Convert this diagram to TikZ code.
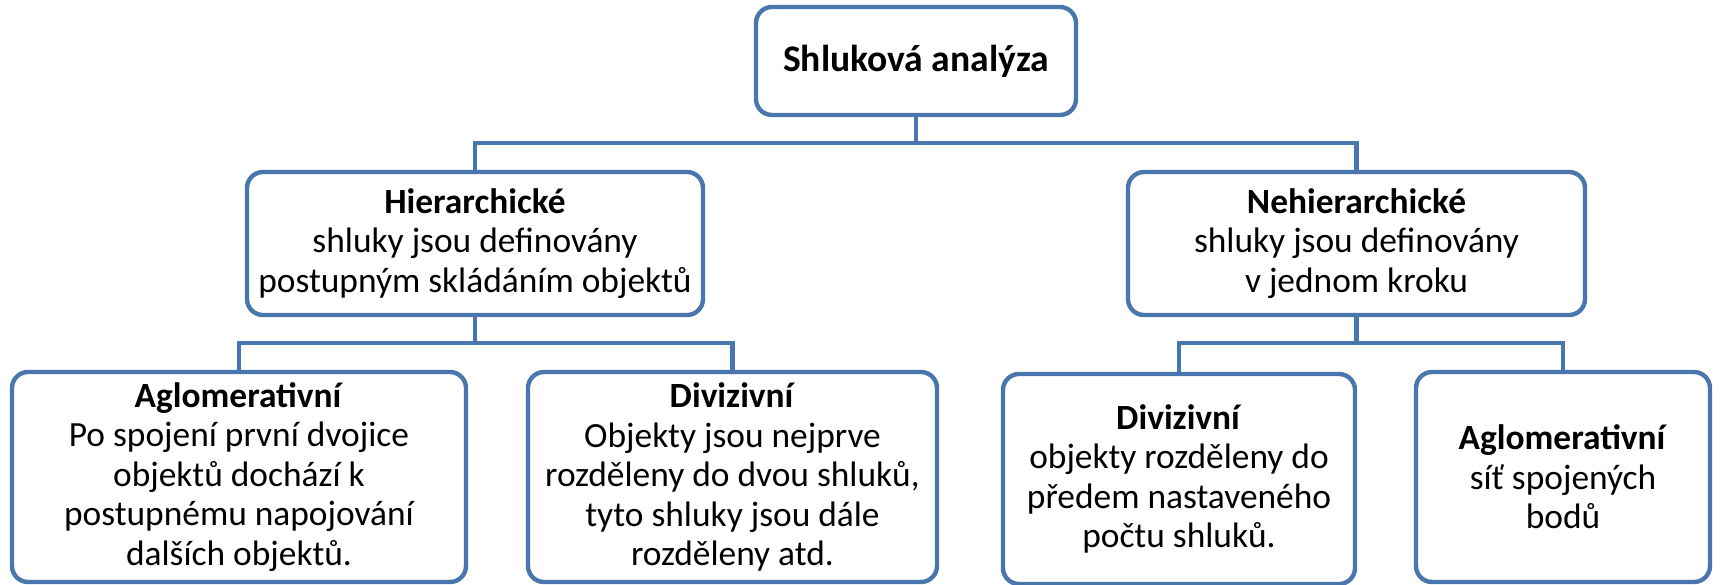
\documentclass[tikz,border=0pt]{standalone}
\usepackage{fontspec}
\setmainfont{Carlito}
\usepackage{tikz}
\definecolor{boxblue}{RGB}{74,118,174}
\tikzstyle{box} = [draw=boxblue,line width=2.2pt,rounded corners=8pt,fill=white,align=center,inner sep=0pt,font=\fontsize{17.7pt}{19.75pt}\selectfont]
\tikzstyle{link} = [draw=boxblue,line width=2.2pt]

\begin{document}
\begin{tikzpicture}[x=0.5pt,y=-0.5pt]
	\useasboundingbox (0,0) rectangle (1725,584);

	% Boxes:
	% Placed at coordinates in pixels of the original layout
	\node[box,minimum width=160pt,minimum height=54pt,font=\fontsize{18.8pt}{21pt}\selectfont] (top) at (916,61) {\textbf{Shluková analýza}};

	\node[box,minimum width=228pt,minimum height=71.5pt] (hier) at (475,243.5)
		{\textbf{Hierarchické}\\shluky jsou definovány\\postupným skládáním objektů};
	\node[box,minimum width=228.5pt,minimum height=71.5pt] (nehier) at (1356.5,243.5)
		{\textbf{Nehierarchické}\\shluky jsou definovány\\v jednom kroku};

	\node[box,minimum width=227pt,minimum height=105pt] (agl1) at (239,477)
		{\textbf{Aglomerativní}\\Po spojení první dvojice\\objektů dochází k\\postupnému napojování\\dalších objektů.};
	\node[box,minimum width=204.5pt,minimum height=105pt] (div1) at (732.5,477)
		{\textbf{Divizivní}\\Objekty jsou nejprve\\rozděleny do dvou shluků,\\tyto shluky jsou dále\\rozděleny atd.};
	\node[box,minimum width=176pt,minimum height=105pt] (div2) at (1179,479)
		{\textbf{Divizivní}\\objekty rozděleny do\\předem nastaveného\\počtu shluků.};
	\node[box,minimum width=147pt,minimum height=105pt] (agl2) at (1563,477)
		{\textbf{Aglomerativní}\\síť spojených\\bodů};

	% Connectors:
	% Horizontal buses between the levels
	\coordinate (bus0) at (0,143);
	\coordinate (bus1) at (0,343);
	\draw[link] (top.south) -- (top.south |- bus0);
	\draw[link] (hier.north) |- (top.south |- bus0) -| (nehier.north);

	\draw[link] (hier.south) -- (hier.south |- bus1);
	\draw[link] (agl1.north) |- (hier.south |- bus1) -| (div1.north);

	\draw[link] (nehier.south) -- (nehier.south |- bus1);
	\draw[link] (div2.north) |- (nehier.south |- bus1) -| (agl2.north);
\end{tikzpicture}
\end{document}
